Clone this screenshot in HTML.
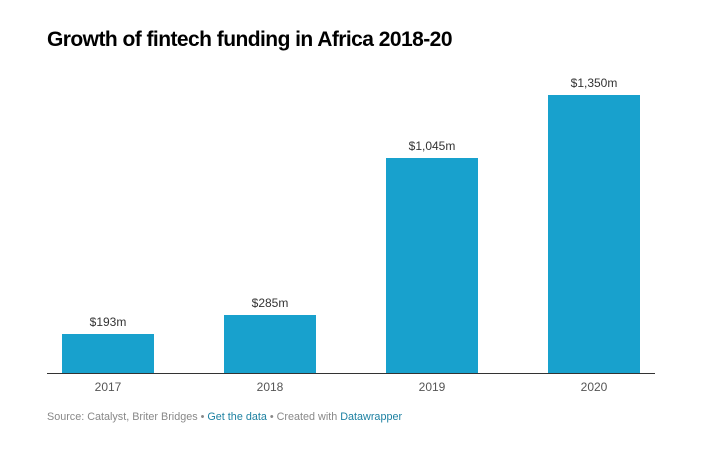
<!DOCTYPE html>
<html><head><meta charset="utf-8"><style>
body{margin:0;width:706px;height:454px;background:#fff;font-family:"Liberation Sans",sans-serif;position:relative;overflow:hidden}
.t{position:absolute;left:47px;top:28px;font-size:21px;font-weight:bold;color:#000;letter-spacing:-0.55px}
.b{position:absolute;background:#18a1cd;width:92px}
.l{position:absolute;width:140px;text-align:center;font-size:12px;color:#333}
.x{position:absolute;width:140px;text-align:center;font-size:12px;color:#555}
.ax{position:absolute;left:47px;width:608px;top:373px;height:1px;background:#333}
.f{position:absolute;left:47px;top:411px;font-size:10.8px;color:#888}
.f span{color:#1d81a2}
</style></head><body>
<div class="t">Growth of fintech funding in Africa 2018-20</div>
<div class="b" style="left:62px;top:334px;height:40px"></div>
<div class="b" style="left:224px;top:315px;height:59px"></div>
<div class="b" style="left:386px;top:158px;height:216px"></div>
<div class="b" style="left:548px;top:95px;height:279px"></div>
<div class="l" style="left:38px;top:315px">$193m</div>
<div class="l" style="left:200px;top:296px">$285m</div>
<div class="l" style="left:362px;top:139px">$1,045m</div>
<div class="l" style="left:524px;top:76px">$1,350m</div>
<div class="ax"></div>
<div class="x" style="left:38px;top:380px">2017</div>
<div class="x" style="left:200px;top:380px">2018</div>
<div class="x" style="left:362px;top:380px">2019</div>
<div class="x" style="left:524px;top:380px">2020</div>
<div class="f">Source: Catalyst, Briter Bridges • <span>Get the data</span> • Created with <span>Datawrapper</span></div>
</body></html>
